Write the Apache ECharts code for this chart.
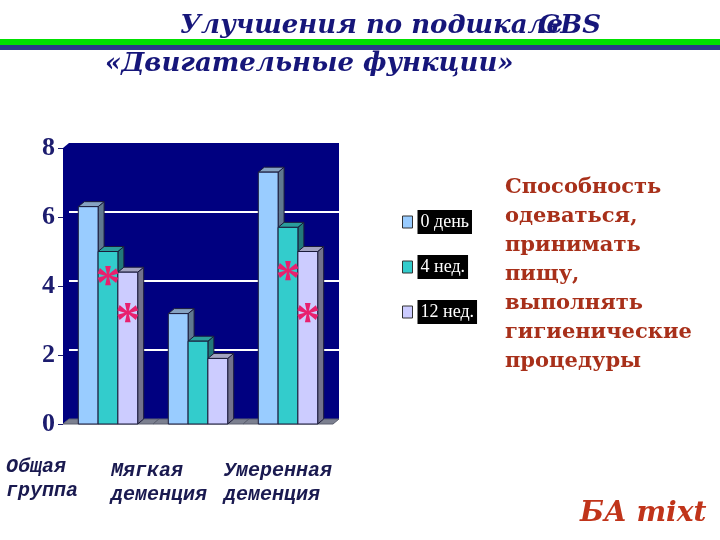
<!DOCTYPE html>
<html><head><meta charset="utf-8">
<script src="https://cdn.jsdelivr.net/npm/echarts@6/dist/echarts.min.js"></script>
<style>html,body{margin:0;padding:0;background:#fff}#c{width:720px;height:540px}</style>
</head><body><div id="c"></div>
<script>
const categories = ['Общая группа', 'Мягкая деменция', 'Умеренная деменция'];
const seriesNames = ['0 день', '4 нед.', '12 нед.'];
const day0 = [6.3, 3.2, 7.3];
const week4 = [5.0, 2.4, 5.7];
const week12 = [4.4, 1.9, 5.0];
const yTicks = [0, 2, 4, 6, 8];
// significance marks: [category index, series index, height on value axis]
const asterisks = [[0, 1, 4.25], [0, 2, 3.2], [2, 1, 4.4], [2, 2, 3.2]];
const noteLines = ['Способность', 'одеваться,', 'принимать', 'пищу,', 'выполнять', 'гигиенические', 'процедуры'];

const FRONT = ['#99ccff', '#33cccc', '#ccccff'];
const TOP = ['#86a3c2', '#2a9e9c', '#a3a3c0'];
const SIDE = ['#607890', '#22787a', '#72728c'];
const DX = 6, DY = 5;
const EDGE = '#1b1b3a';

function barGeom(api, c, si) {
  const band = api.size([1, 0])[0];
  const bw = band * 0.22;
  const b = api.coord([c, 0]);
  const x0 = b[0] - DX - 1.5 * bw + si * bw;
  return { x0: x0, x1: x0 + bw, bw: bw, yb: b[1] + DY };
}

function barRender(si) {
  return function (params, api) {
    const c = api.value(0), v = api.value(1);
    const g = barGeom(api, c, si);
    const yt = api.coord([c, v])[1] + DY;
    const st = { stroke: EDGE, lineWidth: 1 };
    return {
      type: 'group', children: [
        { type: 'polygon', shape: { points: [[g.x1, yt], [g.x1 + DX, yt - DY], [g.x1 + DX, g.yb - DY], [g.x1, g.yb]] }, style: Object.assign({ fill: SIDE[si] }, st) },
        { type: 'polygon', shape: { points: [[g.x0, yt], [g.x0 + DX, yt - DY], [g.x1 + DX, yt - DY], [g.x1, yt]] }, style: Object.assign({ fill: TOP[si] }, st) },
        { type: 'rect', shape: { x: g.x0, y: yt, width: g.bw, height: g.yb - yt }, style: Object.assign({ fill: FRONT[si] }, st) }
      ]
    };
  };
}

function floorRender(params, api) {
  const c = api.value(0);
  const band = api.size([1, 0])[0];
  const b = api.coord([c, 0]);
  const t = api.coord([c, 8]);
  const L = b[0] - band / 2, R = b[0] + band / 2;
  const children = [
    { type: 'polygon', shape: { points: [[L, b[1]], [R, b[1]], [R - DX, b[1] + DY], [L - DX, b[1] + DY]] }, style: { fill: '#7c8090', stroke: '#5a5e6e', lineWidth: 1 } }
  ];
  if (c === 0) {
    children.unshift({ type: 'polygon', shape: { points: [[L, t[1]], [L - DX, t[1] + DY], [L - DX, b[1] + DY], [L, b[1]]] }, style: { fill: '#000080' } });
  }
  return { type: 'group', children: children };
}

function starRender(params, api) {
  const c = api.value(0), si = api.value(1), lvl = api.value(2);
  const g = barGeom(api, c, si);
  const y = api.coord([c, lvl])[1] + DY + 9;
  return {
    type: 'text',
    style: { text: '*', x: g.x0 + g.bw / 2, y: y, fill: '#e8206e', fontSize: 50, fontWeight: 'bold', fontFamily: 'Liberation Serif', align: 'center', verticalAlign: 'middle' }
  };
}

const chart = echarts.init(document.getElementById('c'));
const titleStyle = { color: '#16167a', fontFamily: 'DejaVu Serif', fontStyle: 'italic', fontWeight: 'bold', fontSize: 26 };
const catStyle = { fill: '#1a1a50', fontFamily: 'Liberation Mono', fontStyle: 'italic', fontWeight: 'bold', fontSize: 20, lineHeight: 24 };
const catPos = [[6, 455], [111, 459], [224, 459]];

chart.setOption({
  backgroundColor: '#ffffff',
  animation: false,
  title: [
    { text: 'Улучшения по подшкале', left: 175, top: 8, textStyle: titleStyle },
    { text: 'GBS', left: 533, top: 8, textStyle: titleStyle },
    { text: '«Двигательные функции»', left: 100, top: 46, textStyle: titleStyle }
  ],
  graphic: [
    { type: 'rect', left: 0, top: 39, shape: { width: 720, height: 6 }, style: { fill: '#00e000' }, z: -1 },
    { type: 'rect', left: 0, top: 45, shape: { width: 720, height: 5 }, style: { fill: '#2b3b88' }, z: -1 },
    { type: 'text', left: 505, top: 173, style: { text: noteLines.join('\n'), fill: '#a8301a', fontFamily: 'DejaVu Serif', fontWeight: 'bold', fontSize: 21, lineHeight: 29 } },
    { type: 'text', left: 580, top: 500, style: { text: 'БА mixt', fill: '#c0341a', fontFamily: 'DejaVu Serif', fontStyle: 'italic', fontWeight: 'bold', fontSize: 28 } }
  ].concat(categories.map(function (name, i) {
    return { type: 'text', left: catPos[i][0], top: catPos[i][1], style: Object.assign({ text: name.replace(' ', '\n') }, catStyle) };
  })),
  legend: {
    data: seriesNames,
    orient: 'vertical', left: 397, top: 205,
    itemWidth: 10, itemHeight: 12, itemGap: 21, icon: 'rect',
    itemStyle: { borderColor: '#333', borderWidth: 1 },
    textStyle: { color: '#fff', backgroundColor: '#000', fontFamily: 'Liberation Serif', fontSize: 18, padding: [3, 3, 3, 3] }
  },
  grid: [
    { left: 69, top: 143, width: 270, height: 276, show: true, backgroundColor: '#000080', borderWidth: 0 },
    { left: 69 - DX, top: 143 + DY, width: 270, height: 276, show: false }
  ],
  xAxis: [
    { type: 'category', gridIndex: 0, data: categories, axisLabel: { show: false }, axisLine: { show: false }, axisTick: { show: false } },
    { type: 'category', gridIndex: 1, data: categories, show: false }
  ],
  yAxis: [
    {
      type: 'value', gridIndex: 0, min: yTicks[0], max: yTicks[yTicks.length - 1], interval: 2,
      axisLine: { show: false }, axisTick: { show: false }, axisLabel: { show: false },
      splitLine: { show: true, showMinLine: false, showMaxLine: false, lineStyle: { color: '#ffffff', width: 2 } }
    },
    {
      type: 'value', gridIndex: 1, min: yTicks[0], max: yTicks[yTicks.length - 1], interval: 2,
      axisLine: { show: false },
      axisTick: { show: true, length: 5, lineStyle: { color: '#1c1c6e' } },
      axisLabel: { color: '#1c1c6e', fontFamily: 'Liberation Serif', fontWeight: 'bold', fontSize: 26, margin: 8 },
      splitLine: { show: false }
    }
  ],
  series: [
    { type: 'custom', name: 'floor', renderItem: floorRender, data: categories.map(function (_, i) { return [i, 0]; }), encode: { x: 0, y: 1 }, silent: true },
    { type: 'custom', name: seriesNames[0], renderItem: barRender(0), itemStyle: { color: FRONT[0] }, data: day0.map(function (v, i) { return [i, v]; }), encode: { x: 0, y: 1 } },
    { type: 'custom', name: seriesNames[1], renderItem: barRender(1), itemStyle: { color: FRONT[1] }, data: week4.map(function (v, i) { return [i, v]; }), encode: { x: 0, y: 1 } },
    { type: 'custom', name: seriesNames[2], renderItem: barRender(2), itemStyle: { color: FRONT[2] }, data: week12.map(function (v, i) { return [i, v]; }), encode: { x: 0, y: 1 } },
    { type: 'custom', name: 'marks', renderItem: starRender, data: asterisks, encode: { x: 0, y: 2 }, silent: true, z: 5 }
  ]
});
</script></body></html>
